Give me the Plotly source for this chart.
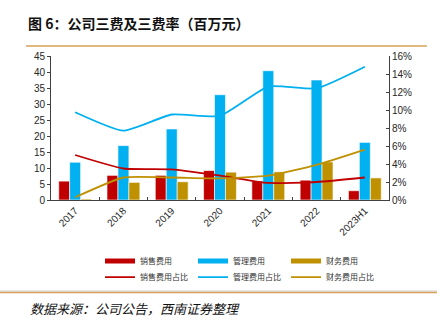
import plotly.graph_objects as go

categories = ["2017", "2018", "2019", "2020", "2021", "2022", "2023H1"]
sales_exp = [5.9, 7.7, 7.7, 9.2, 5.9, 6.2, 2.9]
admin_exp = [11.8, 17.0, 22.2, 32.9, 40.4, 37.5, 18.0]
fin_exp = [0.3, 5.5, 5.7, 8.7, 8.8, 11.9, 6.9]
sales_ratio = [0.050, 0.035, 0.034, 0.027, 0.019, 0.020, 0.025]
admin_ratio = [0.0975, 0.077, 0.095, 0.0935, 0.126, 0.124, 0.148]
fin_ratio = [0.003, 0.025, 0.025, 0.024, 0.027, 0.039, 0.056]

RED, BLUE, GOLD = "#C00000", "#00B0F0", "#BF9000"
FONT = "Liberation Sans, Arial, sans-serif"
CJK = "Noto Sans CJK SC"

fig = go.Figure()
for name, vals, c in [("销售费用", sales_exp, RED), ("管理费用", admin_exp, BLUE), ("财务费用", fin_exp, GOLD)]:
    fig.add_trace(go.Bar(x=categories, y=vals, name=name, marker=dict(color=c, line=dict(color="#FFFFFF", width=0.6)),
                         showlegend=False))
    # legend swatch drawn as a thick line, like the reference
    fig.add_trace(go.Scatter(x=[None], y=[None], name=name, mode="lines", line=dict(color=c, width=5),
                             legend="legend"))
for name, vals, c in [("销售费用占比", sales_ratio, RED), ("管理费用占比", admin_ratio, BLUE), ("财务费用占比", fin_ratio, GOLD)]:
    fig.add_trace(go.Scatter(x=categories, y=vals, name=name, mode="lines", yaxis="y2",
                             line=dict(color=c, width=1.8, shape="spline", smoothing=0.5), legend="legend2"))

axis_common = dict(showline=True, linecolor="#404040", linewidth=1, ticklen=3,
                   tickcolor="#404040", showgrid=False, zeroline=False,
                   tickfont=dict(family=FONT, size=10, color="#262626"))

leg = dict(orientation="h", xanchor="left", yanchor="middle",
           font=dict(family=CJK, size=8, color="#333333"), itemwidth=30, entrywidth=48,
           bgcolor="rgba(0,0,0,0)", tracegroupgap=0)

fig.update_layout(
    width=437, height=325,
    margin=dict(l=51, r=48, t=56, b=125),
    paper_bgcolor="white", plot_bgcolor="white",
    barmode="group", bargap=0.32, bargroupgap=0,
    showlegend=True,
    xaxis=dict(type="category", tickangle=-45, tickson="boundaries", ticks="inside", **axis_common),
    yaxis=dict(range=[0, 45], dtick=5, ticks="outside", **axis_common),
    yaxis2=dict(range=[0, 0.16], dtick=0.02, tickformat=".0%", overlaying="y", side="right",
                ticks="inside", **axis_common),
    legend=dict(x=0.145, y=-0.424, **leg),
    legend2=dict(x=0.145, y=-0.535, **leg),
)

fig.add_annotation(text="<b>图 6：公司三费及三费率（百万元）</b>", xref="paper", yref="paper", x=-0.074, y=1.229,
                   xanchor="left", yanchor="middle", showarrow=False,
                   font=dict(family=CJK, size=14, color="#111111"))
fig.add_annotation(text="<i>数据来源：公司公告，西南证券整理</i>", xref="paper", yref="paper", x=-0.068, y=-0.75,
                   xanchor="left", yanchor="middle", showarrow=False,
                   font=dict(family=CJK, size=13, color="#111111"))

fig.add_shape(type="line", xref="paper", yref="paper", x0=-0.074, x1=1.112, y0=1.069, y1=1.069,
              line=dict(color="#D6A158", width=1.5))
fig.add_shape(type="line", xref="paper", yref="paper", x0=-0.151, x1=1.142, y0=-0.632, y1=-0.632,
              line=dict(color="#CCCCCC", width=1))
fig.add_shape(type="line", xref="paper", yref="paper", x0=-0.151, x1=1.142, y0=-0.642, y1=-0.642,
              line=dict(color="#D6A158", width=1.5))

fig.write_html("out.html")
